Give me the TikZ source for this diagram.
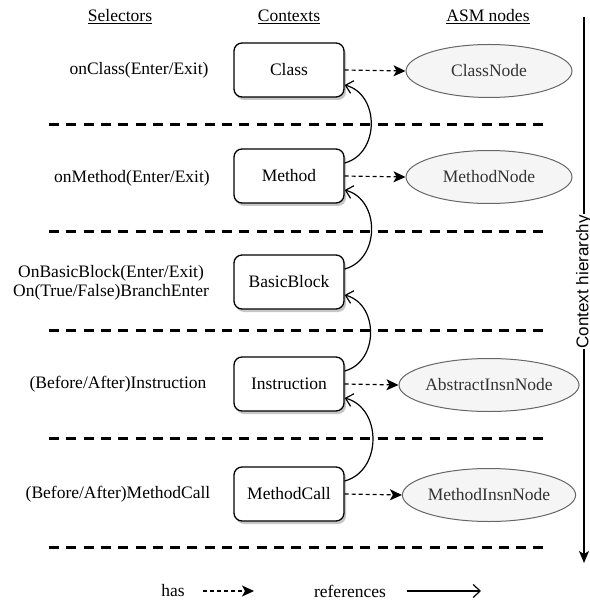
\documentclass[tikz,border=0pt]{standalone}
\usepackage{fontspec}
\setmainfont{Liberation Serif}
\newfontfamily\labelsans{Liberation Sans}
\usetikzlibrary{arrows.meta,shadows,shapes.geometric}

\definecolor{asmfill}{HTML}{F5F5F5}
\definecolor{asmline}{HTML}{666666}
\definecolor{asmtext}{HTML}{333333}

\tikzset{
  base/.style={font=\fontsize{17.5}{21}\selectfont},
  ctxbox/.style={base, draw=black, line width=1.3pt, rounded corners=8pt,
    minimum width=110pt, minimum height=54pt, fill=white,
    drop shadow={shadow xshift=2pt, shadow yshift=-3pt, fill=black, opacity=0.22}},
  asmnode/.style={base, ellipse, draw=asmline, fill=asmfill, text=asmtext,
    line width=1pt, minimum width=166pt, minimum height=53pt, inner sep=0pt},
  plain/.style={base, inner sep=1pt, align=center},
  header/.style={base, inner sep=1pt},
  separator/.style={line width=3pt, dash pattern=on 10pt off 7.3pt},
  hasedge/.style={line width=1.2pt, dash pattern=on 4pt off 3pt,
    -{Stealth[length=12pt, width=11pt, inset=3pt]}},
  refedge/.style={line width=1.2pt, -{Straight Barb[length=7pt, width=13pt]}},
  refcurve/.style={refedge, out=15, in=-15, looseness=1.2},
}

\begin{document}
\begin{tikzpicture}[x=1pt, y=-1pt]
  \useasboundingbox (0,0) rectangle (589,601);

  % column headers
  \node[header] (hsel) at (120,17) {\underline{Selectors}};
  \node[header] (hctx) at (289,17) {\underline{Contexts}};
  \node[header] (hasm) at (488,17) {\underline{ASM nodes}};

  % level separators
  \foreach \yy/\nm in {125/sepA, 232/sepB, 330/sepC, 438/sepD, 547/sepE} {
    \coordinate (\nm L) at (49,\yy);
    \coordinate (\nm R) at (550,\yy);
    \draw[separator] (\nm L) -- (\nm R);
  }

  % contexts
  \node[ctxbox] (class)  at (289,70)  {Class};
  \node[ctxbox] (method) at (289,176) {Method};
  \node[ctxbox] (bb)     at (289,282) {BasicBlock};
  \node[ctxbox] (insn)   at (289,384) {Instruction};
  \node[ctxbox] (call)   at (289,494) {MethodCall};

  % selectors
  \node[plain] (sclass)  at (139,70)  {onClass(Enter/Exit)};
  \node[plain] (smethod) at (132,178) {onMethod(Enter/Exit)};
  \node[plain, align=center] (sbb) at (111,283)
    {OnBasicBlock(Enter/Exit)\\[-2pt]On(True/False)BranchEnter};
  \node[plain] (sinsn)   at (118,384) {(Before/After)Instruction};
  \node[plain] (scall)   at (118,494) {(Before/After)MethodCall};

  % ASM nodes
  \node[asmnode] (nclass)  at (489,71)  {ClassNode};
  \node[asmnode] (nmethod) at (489,177) {MethodNode};
  \node[asmnode] (ninsn)   at (489,385) {AbstractInsnNode};
  \node[asmnode] (ncall)   at (489,495) {MethodInsnNode};

  % "has" relations
  \draw[hasedge] (class.east)  -- (nclass.west);
  \draw[hasedge] (method.east) -- (nmethod.west);
  \draw[hasedge] (insn.east)   -- (ninsn.west);
  \draw[hasedge] (call.east)   -- (ncall.west);

  % "references" relations (child context refers to its parent)
  \draw[refcurve] ([yshift=13pt]method.east) to ([yshift=-15pt]class.east);
  \draw[refcurve] ([yshift=13pt]bb.east)     to ([yshift=-14pt]method.east);
  \draw[refcurve] ([yshift=13pt]insn.east)   to ([yshift=-13pt]bb.east);
  \draw[refcurve] ([yshift=13pt]call.east)   to ([yshift=-14pt]insn.east);

  % context hierarchy axis
  \coordinate (htop) at (584,17);
  \coordinate (hbot) at (584,563);
  \draw[line width=1.2pt, -{Stealth[length=12pt, width=10pt, inset=3pt]}]
    (htop) -- node[pos=0.485, fill=white, rotate=90, inner sep=1pt,
      font=\labelsans\fontsize{17}{20}\selectfont] (hlabel) {Context hierarchy} (hbot);

  % legend
  \node[plain] (lhas) at (173,591) {has};
  \coordinate (lhasA) at (203,591);
  \coordinate (lhasB) at (254,591);
  \draw[hasedge] (lhasA) -- (lhasB);
  \node[plain] (lref) at (350,591) {references};
  \coordinate (lrefA) at (407,591);
  \coordinate (lrefB) at (481,591);
  \draw[refedge] (lrefA) -- (lrefB);
\end{tikzpicture}
\end{document}
